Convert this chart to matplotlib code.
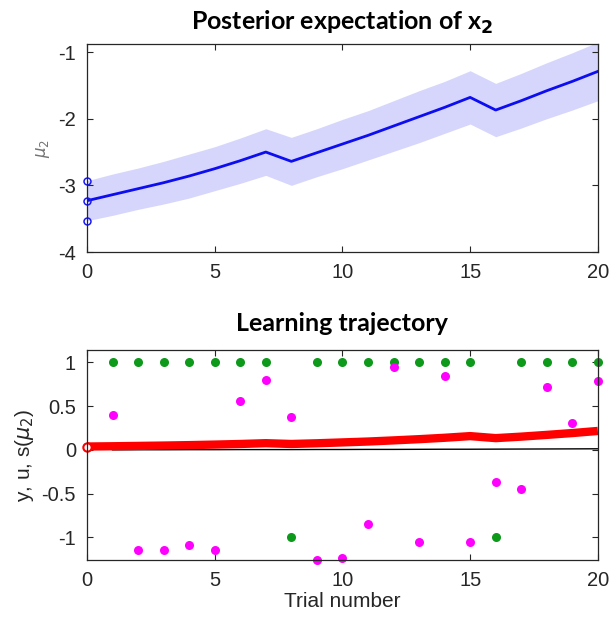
import matplotlib
matplotlib.use('Agg')
import matplotlib.pyplot as plt

plt.rcParams['axes.unicode_minus'] = False

# trial index
trials = list(range(21))

# posterior mean of x2 and its band half-width
mu2 = [-3.23, -3.14, -3.05, -2.96, -2.86, -2.75, -2.63, -2.50, -2.64, -2.51, -2.38,
       -2.25, -2.11, -1.97, -1.83, -1.68, -1.87, -1.73, -1.58, -1.44, -1.29]
sd2 = [0.30, 0.31, 0.31, 0.32, 0.33, 0.33, 0.34, 0.35, 0.36, 0.36, 0.37,
       0.37, 0.38, 0.39, 0.39, 0.40, 0.40, 0.41, 0.42, 0.43, 0.44]
prior_pts = [-2.94, -3.24, -3.53]

# learning trajectory
u_trials = list(range(1, 21))
u = [1, 1, 1, 1, 1, 1, 1, -1, 1, 1, 1, 1, 1, 1, 1, -1, 1, 1, 1, 1]
y = [0.40, -1.14, -1.14, -1.09, -1.15, 0.56, 0.80, 0.38, -1.26, -1.24,
     -0.85, 0.95, -1.05, 0.85, -1.05, -0.37, -0.45, 0.72, 0.31, 0.79]
s_mu2 = [0.038, 0.041, 0.045, 0.049, 0.054, 0.060, 0.067, 0.076, 0.067, 0.075, 0.085,
         0.095, 0.108, 0.122, 0.138, 0.157, 0.134, 0.151, 0.171, 0.192, 0.216]
lr = [0.000, 0.001, 0.001, 0.002, 0.002, 0.003, 0.003, 0.003, 0.004, 0.004,
      0.005, 0.005, 0.006, 0.007, 0.007, 0.008, 0.009, 0.010, 0.011, 0.012]

axcol = (0.15, 0.15, 0.15)
tickfont = 'Liberation Sans'
titlefont = 'Lato'

fig = plt.figure(figsize=(6.14, 6.34), dpi=100)

def style(ax):
    ax.tick_params(direction='in', top=True, right=True, length=4, width=0.8,
                   colors=axcol, labelsize=14.5, pad=8)
    for lab in ax.get_xticklabels() + ax.get_yticklabels():
        lab.set_fontfamily(tickfont)
    for sp in ax.spines.values():
        sp.set_color(axcol)
        sp.set_linewidth(0.9)

# top panel
ax1 = fig.add_axes([0.1417, 0.6025, 0.832, 0.328])
lo = [m - s for m, s in zip(mu2, sd2)]
hi = [m + s for m, s in zip(mu2, sd2)]
ax1.fill_between(trials, lo, hi, color=(0.84, 0.84, 0.99), linewidth=0)
ax1.plot(trials, mu2, color=(0.05, 0.05, 0.95), lw=2)
ax1.plot([0] * len(prior_pts), prior_pts, 'o', mfc='none', mec=(0.1, 0.1, 0.95),
         ms=5, mew=1.1, clip_on=False)
ax1.set_xlim(0, 20)
ax1.set_ylim(-4, -0.88)
ax1.set_xticks([0, 5, 10, 15, 20])
ax1.set_yticks([-4, -3, -2, -1])
ax1.set_ylabel(r'$\mu_2$', fontsize=12, color=(0.45, 0.45, 0.45), labelpad=4)
ax1.set_title(r'Posterior expectation of x$_\mathbf{2}$', fontsize=18,
              fontweight='bold', fontfamily=titlefont, pad=10)
style(ax1)

# bottom panel
ax2 = fig.add_axes([0.1417, 0.1167, 0.832, 0.331])
ax2.plot(u_trials, lr, color='k', lw=1)
ax2.plot(trials, s_mu2, color=(1, 0, 0), lw=6, solid_capstyle='butt')
ax2.plot([0], [s_mu2[0]], 'o', mfc='white', mec=(1, 0, 0), ms=6, mew=1.5, clip_on=False)
ax2.plot(u_trials, u, 'o', color=(0.05, 0.6, 0.1), ms=6.5, mew=0, clip_on=False)
ax2.plot(u_trials, y, 'o', color=(1, 0, 1), ms=6.5, mew=0, clip_on=False)
ax2.set_xlim(0, 20)
ax2.set_ylim(-1.26, 1.14)
ax2.set_xticks([0, 5, 10, 15, 20])
ax2.set_yticks([-1, -0.5, 0, 0.5, 1])
ax2.set_yticklabels(['-1', '-0.5', '0', '0.5', '1'])
ax2.set_xlabel('Trial number', fontsize=15, fontfamily=tickfont, color=axcol, labelpad=1)
ax2.set_ylabel(r'y, u, s($\mu_2$)', fontsize=15, fontfamily=tickfont, color=axcol, labelpad=4)
ax2.set_title('Learning trajectory', fontsize=18, fontweight='bold',
              fontfamily=titlefont, pad=14)
style(ax2)

fig.savefig('out.png', dpi=100)
